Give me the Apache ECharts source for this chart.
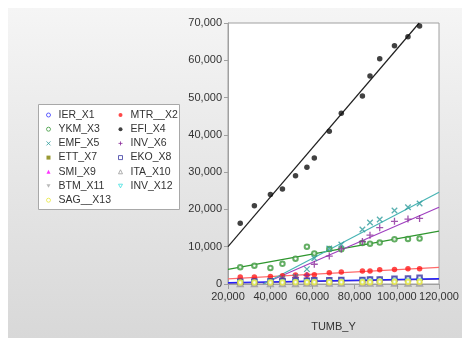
<!DOCTYPE html>
<html><head><meta charset="utf-8">
<script src="https://cdn.jsdelivr.net/npm/echarts@6/dist/echarts.min.js"></script>
<style>html,body{margin:0;padding:0;background:#fff}#c{width:462px;height:338px}</style>
</head><body><div id="c"></div>
<script>
var xVals = [25800, 32500, 40100, 45800, 52000, 57400, 60900, 68000, 73700, 83700, 87300, 91900, 98900, 105300, 110800];
var IER_X1 = [700, 800, 800, 900, 900, 1000, 1000, 1000, 1100, 1100, 1200, 1200, 1300, 1400, 1500];
var MTR_X2 = [1900, 1900, 2000, 2200, 2400, 2400, 2500, 3000, 3200, 3500, 3500, 3800, 3900, 4100, 4100];
var YKM_X3 = [4500, 4900, 4300, 5400, 6800, 10000, 8200, 9400, 9300, 11000, 10800, 11100, 12000, 12100, 12200];
var EFI_X4 = [16300, 21000, 24000, 25500, 29000, 31300, 33800, 41000, 45800, 50400, 55800, 60400, 63900, 66300, 69200];
var EMF_X5 = [500, 600, 900, 1500, 1900, 4000, 6900, 9500, 10600, 14600, 16500, 17300, 19700, 20600, 21600];
var INV_X6 = [300, 400, 700, 1300, 1800, 2300, 5300, 7500, 9400, 11400, 13100, 15100, 16800, 17400, 17600];
var ETT_X7 = [200, 200, 300, 300, 300, 300, 400, 400, 400, 400, 500, 500, 500, 500, 600];
var EKO_X8 = [600, 700, 700, 800, 900, 900, 1000, 1000, 1100, 1100, 1200, 1200, 1400, 1500, 1700];
var SMI_X9 = [100, 100, 200, 200, 200, 200, 200, 300, 300, 300, 300, 300, 300, 400, 400];
var ITA_X10 = [100, 100, 100, 100, 100, 200, 200, 200, 200, 200, 200, 200, 200, 200, 200];
var BTM_X11 = [50, 50, 100, 100, 100, 100, 100, 100, 100, 150, 150, 150, 150, 150, 150];
var INV_X12 = [300, 300, 400, 400, 400, 500, 500, 500, 500, 600, 600, 600, 700, 700, 700];
var SAG_X13 = [400, 400, 400, 400, 500, 500, 500, 500, 500, 500, 500, 600, 600, 600, 600];

// fitted trend lines: [x, y] endpoints
var fitEFI = [[20000, 10000], [110600, 70000]];
var fitEMF = [[36800, 0], [120000, 24600]];
var fitINV6 = [[36500, 0], [120000, 20600]];
var fitYKM = [[20000, 3900], [120000, 14200]];
var fitMTR = [[20000, 1350], [120000, 4450]];
var fitIER = [[20000, 350], [120000, 1420]];
var fitEKO = [[20000, 200], [120000, 1300]];

var xTicks = [20000, 40000, 60000, 80000, 100000, 120000];
var yTicks = [0, 10000, 20000, 30000, 40000, 50000, 60000, 70000];

function pairs(ys){ return ys.map(function(v,i){ return [xVals[i], v]; }); }
function fmt(v){ return Number(v).toLocaleString('en-US'); }

var X_PATH = 'path://M0,0L10,10M10,0L0,10';
var PLUS_PATH = 'path://M5,0L5,10M0,5L10,5';
var DOWN_TRI = 'path://M0,0L10,0L5,9Z';

var defs = [
  {name:'IER_X1', data:IER_X1, sym:'emptyCircle', lsym:'circle', color:'#3b3bff', size:4, bw:1.2},
  {name:'MTR__X2', data:MTR_X2, sym:'circle', color:'#ff1a1a', size:5.5},
  {name:'YKM_X3', data:YKM_X3, sym:'emptyCircle', lsym:'circle', color:'#3d9a3d', size:4.5, bw:1.6},
  {name:'EFI_X4', data:EFI_X4, sym:'circle', color:'#111111', size:5.5},
  {name:'EMF_X5', data:EMF_X5, sym:X_PATH, color:'#2f9c9c', size:5.5, stroke:true},
  {name:'INV_X6', data:INV_X6, sym:PLUS_PATH, color:'#8a2a9a', size:7, stroke:true},
  {name:'ETT_X7', data:ETT_X7, sym:'rect', color:'#7f7f00', size:4.5},
  {name:'EKO_X8', data:EKO_X8, sym:'emptyRect', lsym:'rect', color:'#3a3aa0', size:4.5, bw:1.2},
  {name:'SMI_X9', data:SMI_X9, sym:'triangle', color:'#ff00ff', size:5},
  {name:'ITA_X10', data:ITA_X10, sym:'emptyTriangle', lsym:'triangle', color:'#9a9a9a', size:5, bw:1},
  {name:'BTM_X11', data:BTM_X11, sym:DOWN_TRI, color:'#a8a8a8', size:5},
  {name:'INV_X12', data:INV_X12, sym:DOWN_TRI, color:'#3ee0e0', size:5, bw:1, hollow:true},
  {name:'SAG__X13', data:SAG_X13, sym:'emptyCircle', lsym:'circle', color:'#e8e840', size:4.5, bw:1.2}
];

var series = [];
var fits = [
  {data:fitEKO, color:'#5a3ab0'},
  {data:fitIER, color:'#2020ff'},
  {data:fitMTR, color:'#ff6a6a'},
  {data:fitYKM, color:'#2e962e'},
  {data:fitINV6, color:'#a040c0'},
  {data:fitEMF, color:'#48b4b4'},
  {data:fitEFI, color:'#202020'}
];
fits.forEach(function(f){
  series.push({type:'line', data:f.data, symbol:'none', silent:true,
    lineStyle:{color:f.color, width:1.2}, z:2});
});
function styleOf(d){
  if (d.stroke) return {color:d.color, borderColor:d.color, borderWidth:1.3};
  if (d.hollow) return {color:'#ffffff', borderColor:d.color, borderWidth:d.bw};
  if (d.bw) return {color:d.color, borderColor:d.color, borderWidth:d.bw};
  return {color:d.color};
}
defs.forEach(function(d){
  series.push({type:'scatter', name:d.name, data:pairs(d.data), symbol:d.sym,
    symbolSize:d.size, z:3, itemStyle:styleOf(d)});
});

var leftCol = ['IER_X1','YKM_X3','EMF_X5','ETT_X7','SMI_X9','BTM_X11','SAG__X13'];
var rightCol = ['MTR__X2','EFI_X4','INV_X6','EKO_X8','ITA_X10','INV_X12'];
function legendData(names){
  return names.map(function(n){
    var d = defs.filter(function(e){return e.name===n;})[0];
    var st;
    if (d.lsym || d.hollow) st = {color:'#ffffff', borderColor:d.color, borderWidth:1};
    else if (d.stroke) st = {color:d.color, borderColor:d.color, borderWidth:1};
    else st = {color:d.color, borderWidth:0};
    return {name:n, icon:d.lsym || d.sym, itemStyle:st};
  });
}
var legendCommon = {orient:'vertical', itemWidth:4, itemHeight:4, itemGap:2.2,
  textStyle:{fontSize:10.5, color:'#333', fontFamily:'Liberation Sans, Arial', lineHeight:12, padding:[0,0,0,3]},
  selectedMode:false, padding:0};

var chart = echarts.init(document.getElementById('c'), null, {renderer:'canvas'});
chart.setOption({
  animation:false,
  backgroundColor:'#ffffff',
  textStyle:{fontFamily:'Liberation Sans, Arial'},
  graphic:[
    {type:'rect', z:-100, silent:true, shape:{x:8, y:8, width:454, height:330},
      style:{fill:{type:'linear', x:0, y:0, x2:0, y2:1, colorStops:[{offset:0,color:'#f5f5f5'},{offset:1,color:'#d8d8d8'}]}}},
    {type:'rect', z:1, silent:true, shape:{x:38.5, y:104.5, width:141, height:105},
      style:{fill:'#ffffff', stroke:'#a8a8a8', lineWidth:1}}
  ],
  legend:[
    Object.assign({left:46, top:109, data:legendData(leftCol)}, legendCommon),
    Object.assign({left:118, top:109, data:legendData(rightCol)}, legendCommon)
  ],
  grid:{left:228, right:23, top:23, bottom:54, show:true, backgroundColor:'#ffffff', borderColor:'#a0a0a0', borderWidth:1},
  xAxis:{type:'value', min:20000, max:120000, interval:20000,
    name:'TUMB_Y', nameLocation:'middle', nameGap:37,
    nameTextStyle:{fontSize:11, color:'#333'},
    axisLine:{show:true, lineStyle:{color:'#a0a0a0'}},
    axisTick:{show:true, length:5, lineStyle:{color:'#a0a0a0'}},
    axisLabel:{fontSize:11, color:'#333', margin:7, formatter:function(v){return fmt(v);}},
    splitLine:{show:false}},
  yAxis:{type:'value', min:0, max:70000, interval:10000,
    axisLine:{show:true, lineStyle:{color:'#a0a0a0'}},
    axisTick:{show:true, length:4, lineStyle:{color:'#a0a0a0'}},
    axisLabel:{fontSize:11, color:'#333', margin:6, formatter:function(v){return fmt(v);}},
    splitLine:{show:false}},
  series:series
});
</script></body></html>
